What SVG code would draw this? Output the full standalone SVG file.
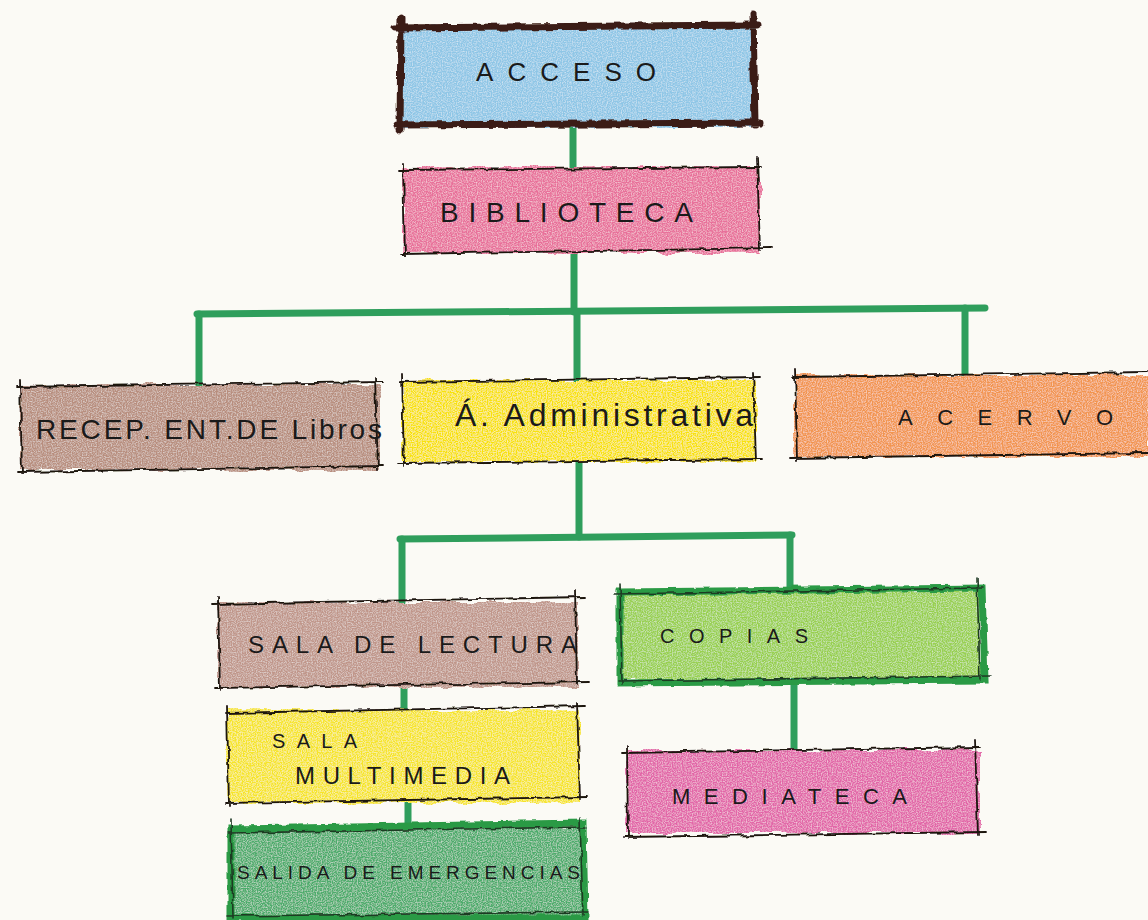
<svg xmlns="http://www.w3.org/2000/svg" width="1148" height="920" viewBox="0 0 1148 920">
<defs>
<filter id="rough" x="-5%" y="-10%" width="110%" height="120%">
<feTurbulence type="fractalNoise" baseFrequency="0.09" numOctaves="2" seed="3" result="n"/>
<feDisplacementMap in="SourceGraphic" in2="n" scale="5" xChannelSelector="R" yChannelSelector="G"/>
</filter>
<filter id="crayon" x="-5%" y="-10%" width="110%" height="120%">
<feTurbulence type="fractalNoise" baseFrequency="0.05" numOctaves="2" seed="7" result="n"/>
<feDisplacementMap in="SourceGraphic" in2="n" scale="8" xChannelSelector="R" yChannelSelector="G" result="d"/>
<feTurbulence type="fractalNoise" baseFrequency="0.8" numOctaves="1" seed="2" result="g"/>
<feColorMatrix in="g" type="matrix" values="0 0 0 0 1  0 0 0 0 1  0 0 0 0 1  0 0 0 -1.2 0.72" result="w"/>
<feComposite in="w" in2="d" operator="in" result="wi"/>
<feMerge><feMergeNode in="d"/><feMergeNode in="wi"/></feMerge>
</filter>
</defs>
<style>
.bg{fill:#fbfaf5}
.border{fill:none;stroke:#1c1410;stroke-width:1.8;stroke-linecap:round;filter:url(#rough)}
.thick{stroke:#3a1a14;stroke-width:7}
.gb{stroke:#1f3a24;stroke-width:1.6}
.halo-g{fill:none;stroke:#2a9a44;stroke-width:7;filter:url(#rough)}
.conn line{stroke:#2f9e5c;stroke-width:7;stroke-linecap:round}
.lbl{font-family:"Liberation Sans",Arial,sans-serif;fill:#1a1a1a}
.fill{filter:url(#crayon)}
</style>
<rect class="bg" width="1148" height="920"/>

<g id="connectors" class="conn">
<line x1="573" y1="127" x2="573" y2="167"/>
<line x1="574" y1="253" x2="574" y2="312"/>
<line x1="197" y1="314" x2="985" y2="308"/>
<line x1="199" y1="314" x2="199" y2="385"/>
<line x1="577" y1="312" x2="577" y2="380"/>
<line x1="965" y1="308" x2="965" y2="375"/>
<line x1="579" y1="462" x2="579" y2="537"/>
<line x1="400" y1="539" x2="792" y2="535"/>
<line x1="402" y1="539" x2="402" y2="602"/>
<line x1="790" y1="535" x2="790" y2="590"/>
<line x1="404" y1="687" x2="404" y2="710"/>
<line x1="408" y1="803" x2="408" y2="827"/>
<line x1="794" y1="680" x2="794" y2="750"/>
</g>

<g id="acceso">
<rect class="fill" x="400" y="25" width="353" height="102" fill="#8ec6e6"/>
<path class="border thick" d="M394 28 L758 25 M397 125 L760 123 M401 18 L400 130 M753 14 L755 125"/>
<text class="lbl" x="476" y="81" font-size="26" textLength="180" lengthAdjust="spacing">ACCESO</text>
</g>

<g id="biblioteca">
<rect class="fill" x="403" y="167" width="357" height="86" fill="#e8709a"/>
<path class="border" d="M399 170 L760 167 M401 254 L772 248 M403 164 L405 256 M757 157 L760 250"/>
<text class="lbl" x="440" y="222" font-size="28" textLength="253" lengthAdjust="spacing">BIBLIOTECA</text>
</g>

<g id="recep">
<rect class="fill" x="20" y="385" width="360" height="85" fill="#b88e7e"/>
<path class="border" d="M16 387 L383 382 M18 472 L383 466 M20 380 L22 474 M375 378 L378 470"/>
<text class="lbl" x="36" y="439" font-size="28" textLength="346" lengthAdjust="spacing">RECEP. ENT.DE Libros</text>
</g>

<g id="administrativa">
<rect class="fill" x="402" y="380" width="355" height="82" fill="#f8e210"/>
<path class="border" d="M400 382 L760 377 M398 463 L762 459 M402 374 L404 466 M753 372 L756 461"/>
<text class="lbl" x="455" y="426" font-size="32" textLength="298" lengthAdjust="spacing">Á. Administrativa</text>
</g>

<g id="acervo">
<rect class="fill" x="795" y="375" width="353" height="82" fill="#f29550"/>
<path class="border" d="M793 377 L1148 372 M790 458 L1148 453 M795 368 L797 460"/>
<text class="lbl" x="898" y="425" font-size="22" textLength="215" lengthAdjust="spacing">ACERVO</text>
</g>

<g id="sala-lectura">
<rect class="fill" x="218" y="602" width="360" height="85" fill="#c0968a"/>
<path class="border" d="M212 604 L585 597 M215 688 L588 682 M218 598 L220 690 M575 590 L577 684"/>
<text class="lbl" x="248" y="653" font-size="24" textLength="329" lengthAdjust="spacing">SALA DE LECTURA</text>
</g>

<g id="copias">
<rect class="fill" x="620" y="590" width="360" height="90" fill="#98d050"/>
<path class="halo-g" d="M620 592 L982 588 L985 680 L620 683 Z"/>
<path class="border gb" d="M614 594 L982 588 M618 681 L990 676 M620 584 L622 684 M977 578 L980 680"/>
<text class="lbl" x="660" y="643" font-size="20" textLength="148" lengthAdjust="spacing">COPIAS</text>
</g>

<g id="sala-multimedia">
<rect class="fill" x="227" y="710" width="353" height="93" fill="#f6e52a"/>
<path class="border" d="M225 713 L585 706 M225 803 L587 797 M227 706 L229 806 M577 703 L580 799"/>
<text class="lbl" x="272" y="748" font-size="20" textLength="85" lengthAdjust="spacing">SALA</text>
<text class="lbl" x="295" y="784" font-size="24" textLength="215" lengthAdjust="spacing">MULTIMEDIA</text>
</g>

<g id="mediateca">
<rect class="fill" x="627" y="750" width="353" height="83" fill="#e266a8"/>
<path class="border" d="M622 753 L980 747 M624 837 L985 832 M627 746 L628 838 M975 740 L978 835"/>
<text class="lbl" x="672" y="804" font-size="22" textLength="235" lengthAdjust="spacing">MEDIATECA</text>
</g>

<g id="salida-emergencias">
<rect class="fill" x="230" y="827" width="353" height="90" fill="#4eac6c"/>
<path class="halo-g" d="M231 829 L583 823 L585 918 L231 918 Z"/>
<path class="border gb" d="M228 833 L586 827 M228 916 L588 912 M231 820 L233 918 M580 818 L583 915"/>
<text class="lbl" x="237" y="879" font-size="19" textLength="343" lengthAdjust="spacing">SALIDA DE EMERGENCIAS</text>
</g>
</svg>
